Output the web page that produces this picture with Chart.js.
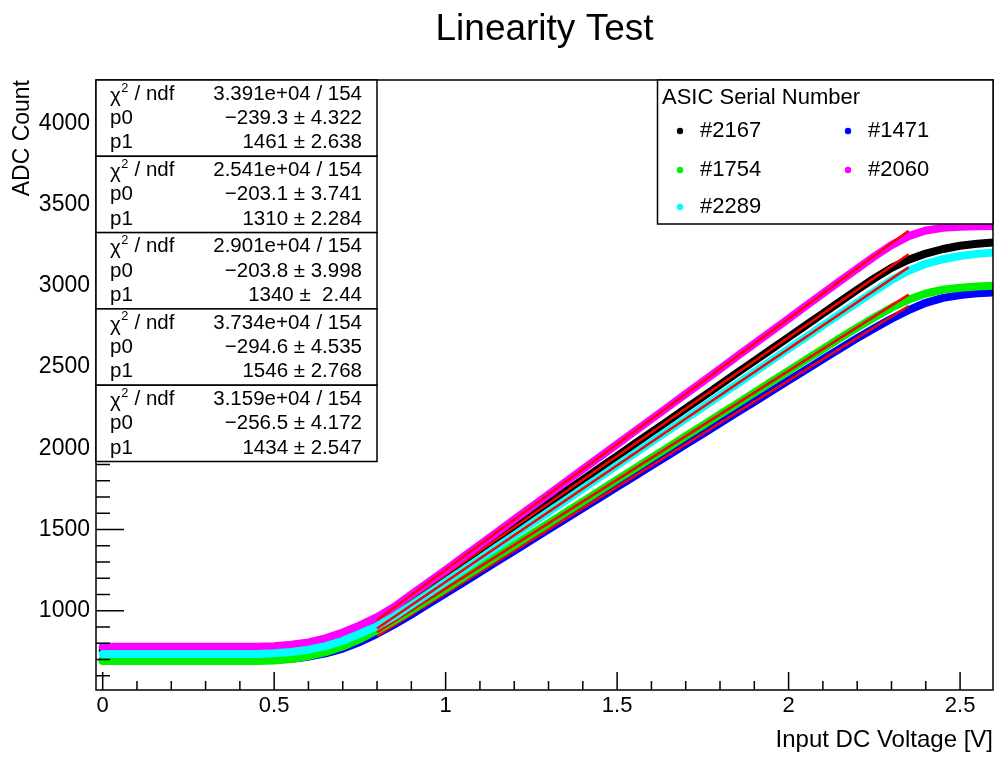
<!DOCTYPE html>
<html><head><meta charset="utf-8">
<script src="https://cdn.jsdelivr.net/npm/chart.js@4.4.1/dist/chart.umd.min.js"></script>
<style>html,body{margin:0;padding:0;background:#fff;overflow:hidden}</style>
</head><body>
<canvas id="c" width="998" height="758"></canvas>
<script>
// ---- data ----
const voltage = [0.00,0.05,0.10,0.15,0.20,0.25,0.30,0.35,0.40,0.45,
  0.50,0.55,0.60,0.65,0.70,0.75,0.80,0.85,0.90,0.95,
  1.00,1.05,1.10,1.15,1.20,1.25,1.30,1.35,1.40,1.45,
  1.50,1.55,1.60,1.65,1.70,1.75,1.80,1.85,1.90,1.95,
  2.00,2.05,2.10,2.15,2.20,2.25,2.30,2.35,2.40,2.45,
  2.50,2.55,2.60];
const adc2167 = [752,752,752,752,752,752,752,752,752,752,
  757,767,784,810,848,893,945,1007,1077,1149,
  1222,1295,1368,1441,1514,1587,1660,1733,1806,1879,
  1952,2025,2098,2171,2244,2317,2391,2464,2537,2610,
  2683,2756,2829,2902,2975,3045,3110,3160,3198,3226,
  3246,3258,3266];
const adc1471 = [695,695,695,695,695,695,695,695,695,695,
  698,704,717,737,767,808,858,915,977,1042,
  1107,1172,1238,1303,1369,1434,1500,1565,1631,1696,
  1762,1827,1893,1958,2024,2089,2155,2220,2286,2351,
  2417,2482,2548,2613,2677,2738,2797,2850,2895,2925,
  2943,2953,2958];
const adc1754 = [690,690,690,690,690,690,690,690,690,690,
  694,703,720,745,780,825,880,940,1003,1070,
  1136,1203,1270,1337,1404,1471,1538,1605,1672,1739,
  1806,1873,1940,2007,2074,2141,2208,2275,2342,2409,
  2476,2543,2610,2677,2742,2805,2865,2915,2952,2975,
  2988,2995,3000];
const adc2060 = [778,778,778,778,778,778,778,778,778,778,
  782,790,805,830,866,910,960,1023,1099,1175,
  1251,1329,1406,1483,1561,1638,1715,1793,1870,1947,
  2024,2102,2179,2256,2334,2411,2488,2566,2643,2720,
  2797,2875,2952,3029,3105,3180,3250,3305,3340,3356,
  3363,3366,3368];
const adc2289 = [734,734,734,734,734,734,734,734,734,734,
  738,746,760,782,815,858,905,965,1035,1106,
  1178,1249,1321,1393,1464,1536,1608,1679,1751,1823,
  1895,1966,2038,2110,2181,2253,2325,2396,2468,2540,
  2612,2683,2755,2827,2896,2966,3035,3092,3135,3163,
  3183,3196,3205];

const serialNumbers = ['#2167','#1471','#1754','#2060','#2289'];
const seriesColors  = ['#000000','#0000ff','#00f000','#ff00ff','#00ffff'];

// straight-line fits (end points over the fit range)
const fitX    = [0.80, 2.35];
const fit2167 = [929.5, 3194.1];
const fit1471 = [844.9, 2875.4];
const fit1754 = [868.2, 2945.2];
const fit2060 = [942.2, 3338.5];
const fit2289 = [890.7, 3113.4];

// statistics box texts
const statRowNames = ['/ ndf', 'p0', 'p1'];
const statChi2 = ['3.391e+04 / 154','2.541e+04 / 154','2.901e+04 / 154','3.734e+04 / 154','3.159e+04 / 154'];
const statP0   = ['\u2212239.3 \u00b1 4.322','\u2212203.1 \u00b1 3.741','\u2212203.8 \u00b1 3.998','\u2212294.6 \u00b1 4.535','\u2212256.5 \u00b1 4.172'];
const statP1   = ['1461 \u00b1 2.638','1310 \u00b1 2.284','1340 \u00b1  2.44','1546 \u00b1 2.768','1434 \u00b1 2.547'];

const xTickValues = [0, 0.5, 1, 1.5, 2, 2.5];
const yTickValues = [1000, 1500, 2000, 2500, 3000, 3500, 4000];

// ---- chart ----
const FONT = '"Liberation Sans", Arial, Helvetica, sans-serif';
Chart.defaults.font.family = FONT;
Chart.defaults.color = '#000';

const series = [adc2167, adc1471, adc1754, adc2060, adc2289];
const fits = [fit2167, fit1471, fit1754, fit2060, fit2289];
const datasets = [];
series.forEach((vals, i) => {
  datasets.push({
    label: serialNumbers[i],
    data: voltage.map((v, k) => ({x: v, y: vals[k]})),
    showLine: true, borderColor: seriesColors[i], backgroundColor: seriesColors[i],
    borderWidth: 8, pointRadius: 0, borderCapStyle: 'round', borderJoinStyle: 'round',
    tension: 0, clip: 0, order: 100 - 2 * i
  });
  datasets.push({
    label: 'fit ' + serialNumbers[i],
    data: fitX.map((v, k) => ({x: v, y: fits[i][k]})),
    showLine: true, borderColor: '#ff0000', backgroundColor: '#ff0000',
    borderWidth: 2.5, pointRadius: 0, tension: 0, clip: 0, order: 99 - 2 * i
  });
});

function drawChi(ctx, x, y, size) {
  ctx.textAlign = 'left';
  ctx.font = size + 'px ' + FONT;
  ctx.fillText('\u03c7', x, y + 2);
  const w = ctx.measureText('\u03c7').width;
  ctx.font = (size * 0.62) + 'px ' + FONT;
  ctx.fillText('2', x + w + 0.5, y - 6);
  const w2 = ctx.measureText('2').width;
  ctx.font = size + 'px ' + FONT;
  ctx.fillText(' ' + statRowNames[0], x + w + w2 + 1, y);
}

const decorPlugin = {
  id: 'decor',
  afterDraw(chart) {
    const ctx = chart.ctx;
    const xs = chart.scales.x, ys = chart.scales.y;
    const a = chart.chartArea;
    ctx.save();
    ctx.strokeStyle = '#000';
    ctx.lineWidth = 1.5;
    // inner tick marks
    ctx.beginPath();
    for (let k = 5; k <= 43; k++) {
      const py = ys.getPixelForValue(k * 100);
      if (py < a.top || py > a.bottom) continue;
      const len = k % 5 === 0 ? 28 : 14;
      ctx.moveTo(a.left, py); ctx.lineTo(a.left + len, py);
    }
    for (let k = 0; k <= 26; k++) {
      const px = xs.getPixelForValue(k / 10);
      if (px < a.left || px > a.right + 1) continue;
      const len = k % 5 === 0 ? 18 : 9;
      ctx.moveTo(px, a.bottom); ctx.lineTo(px, a.bottom - len);
    }
    ctx.stroke();
    ctx.strokeRect(a.left, a.top, a.right - a.left, a.bottom - a.top);

    // statistics boxes
    const boxL = a.left, boxR = 377, boxH = 76.3, fs = 20.5;
    ctx.textBaseline = 'middle';
    for (let i = 0; i < serialNumbers.length; i++) {
      const y0 = a.top + i * boxH;
      ctx.fillStyle = '#fff';
      ctx.fillRect(boxL, y0, boxR - boxL, boxH);
      ctx.strokeRect(boxL, y0, boxR - boxL, boxH);
      ctx.fillStyle = '#000';
      const vals = [statChi2[i], statP0[i], statP1[i]];
      vals.forEach((txt, r) => {
        const ty = y0 + 14 + r * 24.4;
        if (r === 0) drawChi(ctx, 110, ty, fs);
        else { ctx.font = fs + 'px ' + FONT; ctx.textAlign = 'left'; ctx.fillText(statRowNames[r], 110, ty); }
        ctx.font = fs + 'px ' + FONT;
        ctx.textAlign = 'right';
        ctx.fillText(txt, 362, ty);
      });
    }

    // legend box
    const lgL = 657.5, lgT = a.top, lgR = a.right, lgB = 224;
    ctx.fillStyle = '#fff';
    ctx.fillRect(lgL, lgT, lgR - lgL, lgB - lgT);
    ctx.strokeRect(lgL, lgT, lgR - lgL, lgB - lgT);
    ctx.fillStyle = '#000';
    ctx.font = '22px ' + FONT;
    ctx.textAlign = 'left';
    ctx.fillText('ASIC Serial Number', 662, 98);
    const colDot = [680, 848], colTxt = [700, 868], rowY = [131, 170, 207];
    serialNumbers.forEach((s, i) => {
      const row = Math.floor(i / 2), col = i % 2;
      ctx.fillStyle = seriesColors[i];
      ctx.beginPath();
      ctx.arc(colDot[col], rowY[row], 3.2, 0, Math.PI * 2);
      ctx.fill();
      ctx.fillStyle = '#000';
      ctx.fillText(s, colTxt[col], rowY[row]);
    });
    ctx.restore();
  }
};

new Chart(document.getElementById('c'), {
  type: 'scatter',
  data: { datasets },
  options: {
    responsive: false,
    animation: false,
    devicePixelRatio: 1,
    layout: { padding: { left: 0, right: 5, top: 0, bottom: 0 } },
    plugins: {
      legend: { display: false },
      tooltip: { enabled: false },
      title: {
        display: true, text: 'Linearity Test', fullSize: false,
        font: { size: 37, weight: 'normal' }, color: '#000',
        padding: { top: 7.5, bottom: 28.1 }
      }
    },
    scales: {
      x: {
        type: 'linear', min: -0.0195, max: 2.596,
        grid: { display: false, drawTicks: false },
        border: { display: false },
        afterBuildTicks: s => { s.ticks = xTickValues.map(v => ({ value: v })); },
        afterFit: s => { s.height = 68; },
        ticks: { font: { size: 22 }, padding: 3, color: '#000', maxRotation: 0, autoSkip: false,
          callback: v => String(v) },
        title: { display: true, text: 'Input DC Voltage [V]', align: 'end',
          font: { size: 24 }, color: '#000', padding: { top: 0, bottom: 3.6 } }
      },
      y: {
        type: 'linear', min: 512, max: 4266,
        grid: { display: false, drawTicks: false },
        border: { display: false },
        afterBuildTicks: s => { s.ticks = yTickValues.map(v => ({ value: v })); },
        afterFit: s => { s.width = 96; },
        ticks: { font: { size: 23 }, padding: 6, color: '#000', autoSkip: false,
          callback: v => String(v) },
        title: { display: true, text: 'ADC Count', align: 'end',
          font: { size: 23 }, color: '#000', padding: { top: 9, bottom: 0 } }
      }
    }
  },
  plugins: [decorPlugin]
});
</script>
</body></html>
